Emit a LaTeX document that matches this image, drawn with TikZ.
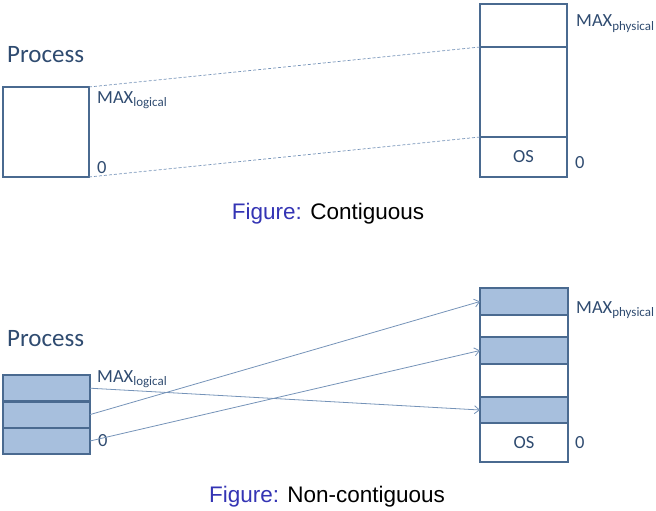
\documentclass[tikz,border=0pt]{standalone}
\usepackage{fontspec}
\setmainfont{Carlito}
\newfontfamily\capfont{Liberation Sans}
\usetikzlibrary{arrows.meta}
\definecolor{boxline}{HTML}{4A6A90}
\definecolor{boxfill}{HTML}{A7BFDD}
\definecolor{txt}{HTML}{2F4B70}
\definecolor{conn}{HTML}{7593B8}
\definecolor{capblue}{HTML}{3434B4}
\begin{document}
\begin{tikzpicture}[x=1pt,y=-1pt,
  box/.style={draw=boxline,line width=2.2pt,fill=white,inner sep=0pt,outer sep=0pt,anchor=north west,minimum width=#1},
  box/.default=86pt,
  bluebox/.style={box=#1,fill=boxfill},
  bluebox/.default=86pt,
  lbl/.style={text=txt,inner sep=0pt,anchor=base west,font=\fontsize{18.5}{20}\selectfont},
  title/.style={text=txt,inner sep=0pt,anchor=base west,font=\fontsize{25}{28}\selectfont},
  caption/.style={inner sep=0pt,anchor=base,font=\capfont\fontsize{22.5}{25}\selectfont},
  ostext/.style={font=\fontsize{18.5}{20}\selectfont, text=txt},
  dashconn/.style={draw=conn,line width=0.7pt,dash pattern=on 3pt off 2pt},
  conn/.style={draw=conn,line width=0.8pt,-{Straight Barb[length=5pt,width=8pt]}}
]
\useasboundingbox (0,0) rectangle (656,511);
% ---------- contiguous ----------
\node[title] (t1) at (7,63) {Process};
\node[box, minimum height=90pt] (p) at (3,87) {};
\node[lbl] (ml1) at (97,103) {MAX\textsubscript{logical}};
\node[lbl] (z1) at (97,173) {0};
\node[box=87pt, minimum height=43pt] (m1) at (480,4) {};
\node[box=87pt, minimum height=90pt] (m2) at (480,47) {};
\node[box=87pt, minimum height=40pt, ostext] (m3) at (480,137) {OS};
\node[lbl] (mp1) at (576,27) {MAX\textsubscript{physical}};
\node[lbl] (zp1) at (575,168) {0};
\draw[dashconn] (p.north east) -- (m2.north west);
\draw[dashconn] (p.south east) -- (m3.north west);
\node[caption] (c1) at (328,219) {\textcolor{capblue}{Figure:} Contiguous};
% ---------- non-contiguous ----------
\node[title] (t2) at (7,346) {Process};
\node[bluebox=87pt, minimum height=26.4pt] (b1) at (3,375) {};
\node[bluebox=87pt, minimum height=26.4pt] (b2) at (3,401.4) {};
\node[bluebox=87pt, minimum height=26.4pt] (b3) at (3,427.8) {};
\node[lbl] (ml2) at (97,382) {MAX\textsubscript{logical}};
\node[lbl] (z2) at (98,446) {0};
\node[bluebox=88pt, minimum height=27pt] (n1) at (480,288) {};
\node[box=88pt, minimum height=22pt] (n2) at (480,315) {};
\node[bluebox=88pt, minimum height=27pt] (n3) at (480,337) {};
\node[box=88pt, minimum height=33pt] (n4) at (480,364) {};
\node[bluebox=88pt, minimum height=26pt] (n5) at (480,397) {};
\node[box=88pt, minimum height=39pt, ostext] (n6) at (480,423) {OS};
\node[lbl] (mp2) at (576,313) {MAX\textsubscript{physical}};
\node[lbl] (zp2) at (575,448) {0};
\draw[conn] (b1.east) -- (n5.west);
\draw[conn] (b2.east) -- (n1.west);
\draw[conn] (b3.east) -- (n3.west);
\node[caption] (c2) at (327,502) {\textcolor{capblue}{Figure:} Non-contiguous};
\end{tikzpicture}
\end{document}
